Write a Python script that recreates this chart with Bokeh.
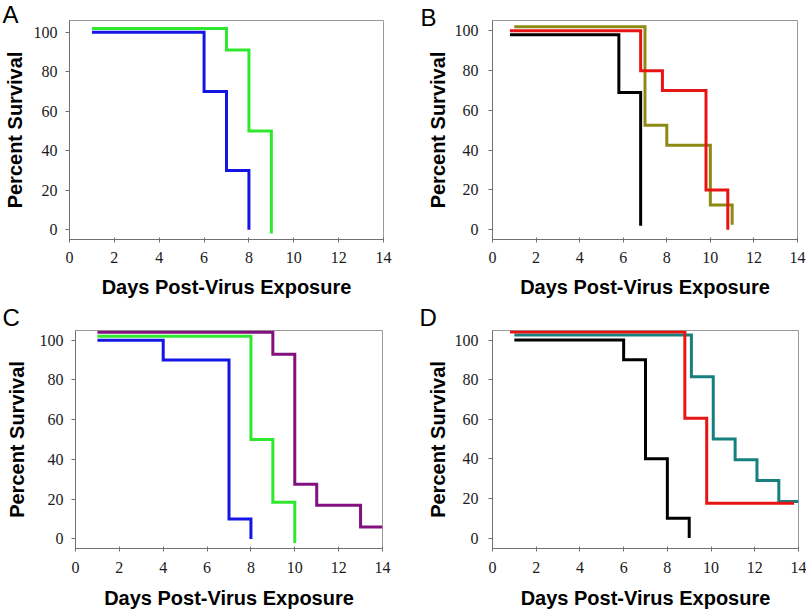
from bokeh.plotting import figure
from bokeh.layouts import column, row
from bokeh.models import Range1d, FixedTicker, Label
from bokeh.embed import file_html
from bokeh.resources import INLINE

# ---- data (days, percent survival at each step) ----
x_ticks = [0, 2, 4, 6, 8, 10, 12, 14]
y_ticks = [0, 20, 40, 60, 80, 100]

a_blue_days = [1, 6, 7, 8]
a_blue_surv = [100, 70, 30, 0]
a_green_days = [1, 7, 8, 9]
a_green_surv = [102, 91, 50, -2]

b_olive_days = [1, 7, 8, 10, 11]
b_olive_surv = [102, 52.5, 42.5, 12.5, 2.5]
b_black_days = [0.8, 5.8, 6.8]
b_black_surv = [98, 69, 2]
b_red_days = [0.8, 6.8, 7.8, 9.8, 10.8]
b_red_surv = [100, 80, 70, 20, 0]

c_blue_days = [1, 4, 7, 8]
c_blue_surv = [100, 90, 10, 0]
c_green_days = [1, 8, 9, 10]
c_green_surv = [102, 50, 18.5, -2]
c_purple_days = [1, 9, 10, 11, 13, 14]
c_purple_surv = [104, 93, 27.5, 17, 6, 6]

d_teal_days = [1, 9.1, 10.1, 11.1, 12.1, 13.1, 14]
d_teal_surv = [102.5, 81.5, 50, 39.5, 29, 18.5, 18.5]
d_red_days = [0.8, 8.8, 9.8, 13.8]
d_red_surv = [104, 60.5, 17.5, 17.5]
d_black_days = [1, 6, 7, 8, 9]
d_black_surv = [100, 90, 40, 10, 0]

BLUE = "#1414e6"
GREEN = "#2ee82e"
OLIVE = "#8c8a14"
RED = "#e81414"
BLACK = "#000000"
PURPLE = "#82107e"
TEAL = "#16807e"

SANS = "Liberation Sans"
SERIF = "Liberation Serif"


def panel(w, h, ylo, yhi, bl, br, bt, bb, ystand, ylab_stand, xstand, xlab_stand,
          letter, side, lx, ly):
    p = figure(width=w, height=h, x_range=Range1d(0, 14), y_range=Range1d(ylo, yhi),
               output_backend="svg", toolbar_location=None,
               min_border_left=bl, min_border_right=br, min_border_top=bt,
               min_border_bottom=bb)
    p.xgrid.visible = False
    p.ygrid.visible = False
    p.outline_line_color = "#9a9a9a"
    p.outline_line_width = 1
    p.background_fill_color = "white"
    p.border_fill_color = "white"
    p.xaxis.ticker = FixedTicker(ticks=x_ticks)
    p.yaxis.ticker = FixedTicker(ticks=y_ticks)
    p.xaxis.major_label_text_font = SERIF
    p.yaxis.major_label_text_font = SERIF
    for ax in (p.xaxis[0], p.yaxis[0]):
        ax.axis_line_color = "#707070"
        ax.axis_line_width = 1
        ax.major_tick_line_color = "#707070"
        ax.minor_tick_line_color = None
        ax.major_label_text_font_size = "16px"
        ax.major_label_text_color = "#1a1a1a"
        ax.axis_label_text_font = SANS
        ax.axis_label_text_font_style = "bold"
        ax.axis_label_text_font_size = "20px"
        ax.axis_label_text_color = "#000000"
    p.xaxis.major_tick_in = 2
    p.xaxis.major_tick_out = 3
    p.xaxis.major_label_standoff = xstand
    p.xaxis.axis_label_standoff = xlab_stand
    p.yaxis.major_tick_in = 0
    p.yaxis.major_tick_out = 4
    p.yaxis.major_label_standoff = ystand
    p.yaxis.axis_label_standoff = ylab_stand
    p.xaxis.axis_label = "Days Post-Virus Exposure"
    p.yaxis.axis_label = "Percent Survival"
    p.add_layout(Label(x=lx, y=ly, x_units="screen", y_units="screen", text=letter,
                       text_font=SANS, text_font_size="24px", text_color="#000000",
                       text_baseline="alphabetic", text_align="left"), side)
    return p


def steps(p, xs, ys, color):
    p.step(xs, ys, mode="after", line_width=3, line_color=color,
           line_join="miter", line_cap="butt")


pA = panel(404, 303, -5, 106, 69, 21, 16, 64, 8, 5, 9, 10,
           "A", "right", -381, 225)
steps(pA, a_green_days, a_green_surv, GREEN)
steps(pA, a_blue_days, a_blue_surv, BLUE)

pB = panel(402, 303, -4.9, 105.2, 88, 9, 20, 64, 10, 3, 9, 10,
           "B", "left", 13, 222)
steps(pB, b_olive_days, b_olive_surv, OLIVE)
steps(pB, b_black_days, b_black_surv, BLACK)
steps(pB, b_red_days, b_red_surv, RED)

pC = panel(404, 311, -4.8, 104.9, 75, 22, 27, 66, 8, 9, 10, 11,
           "C", "right", -380, 231)
steps(pC, c_blue_days, c_blue_surv, BLUE)
steps(pC, c_green_days, c_green_surv, GREEN)
steps(pC, c_purple_days, c_purple_surv, PURPLE)

pD = panel(402, 311, -5.3, 104.8, 88, 8, 24, 66, 10, 3, 10, 11,
           "D", "left", 13, 231)
steps(pD, d_teal_days, d_teal_surv, TEAL)
steps(pD, d_red_days, d_red_surv, RED)
steps(pD, d_black_days, d_black_surv, BLACK)

layout = column(row(pA, pB), row(pC, pD))

open("out.html", "w").write(file_html(layout, INLINE))
